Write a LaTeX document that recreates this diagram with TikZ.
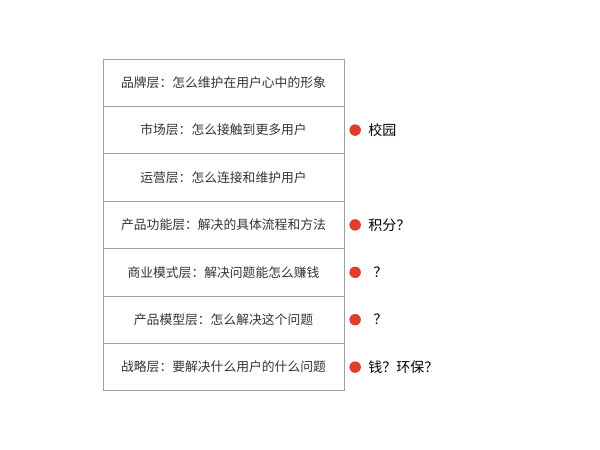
\documentclass[tikz,border=0pt]{standalone}
\usepackage{fontspec}
\newfontfamily\cjk{Noto Sans CJK SC}
\usepackage{xcolor}
\usetikzlibrary{positioning}

\definecolor{lineGray}{RGB}{160,160,160}
\definecolor{textGray}{RGB}{51,51,51}
\definecolor{dotRed}{RGB}{222,62,42}

\begin{document}
\begin{tikzpicture}[
    x=1pt, y=-1pt,
    % --- STYLES ---
    layer/.style={
        rectangle, draw=lineGray, line width=0.9pt, fill=white,
        minimum width=241pt, minimum height=47.4pt,
        outer sep=0pt, inner sep=0pt,
        font=\cjk\fontsize{12.8}{14}\selectfont, text=textGray
    },
    dot/.style={circle, fill=dotRed, minimum size=11.5pt, inner sep=0pt},
    note/.style={anchor=west, inner sep=0pt, font=\cjk\fontsize{14}{16}\selectfont, text=black}
]
\useasboundingbox (0,0) rectangle (600,450);

% ===== 1. LAYERS (top to bottom) =====
\node[layer] (brand) at (223.5,82.7) {品牌层：怎么维护在用户心中的形象};
\node[layer, below=0pt of brand] (market) {市场层：怎么接触到更多用户};
\node[layer, below=0pt of market] (ops) {运营层：怎么连接和维护用户};
\node[layer, below=0pt of ops] (func) {产品功能层：解决的具体流程和方法};
\node[layer, below=0pt of func] (biz) {商业模式层：解决问题能怎么赚钱};
\node[layer, below=0pt of biz] (model) {产品模型层：怎么解决这个问题};
\node[layer, below=0pt of model] (strat) {战略层：要解决什么用户的什么问题};

% ===== 2. NOTES =====
\node[dot, right=5.2pt of market] (dMarket) {};
\node[note, right=7pt of dMarket] (nMarket) {校园};

\node[dot, right=5.2pt of func] (dFunc) {};
\node[note, right=7pt of dFunc] (nFunc) {积分？};

\node[dot, right=5.2pt of biz] (dBiz) {};
\node[note, right=7pt of dBiz] (nBiz) {\hspace{5pt}？};

\node[dot, right=5.2pt of model] (dModel) {};
\node[note, right=7pt of dModel] (nModel) {\hspace{5pt}？};

\node[dot, right=5.2pt of strat] (dStrat) {};
\node[note, right=7pt of dStrat] (nStrat) {钱？环保？};

\end{tikzpicture}
\end{document}
